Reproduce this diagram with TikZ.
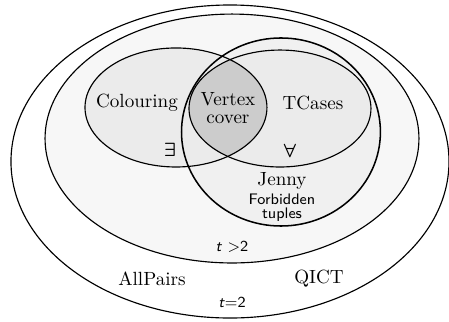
\documentclass[tikz,border=0pt]{standalone}
\usepackage{tikz}
\usepackage{amsmath,amssymb}
\usetikzlibrary{positioning}
\definecolor{pairbg}{HTML}{F7F7F7}
\definecolor{setfill}{HTML}{EBEBEB}
\definecolor{jennyfill}{HTML}{F0F0F0}
\definecolor{lensfill}{HTML}{CCCCCC}

\begin{document}
\begin{tikzpicture}[
  every node/.style={inner sep=1pt},
  setline/.style={draw=black, line width=0.6pt},
  sflabel/.style={font=\sffamily\footnotesize, align=center},
  rmlabel/.style={font=\normalsize, align=center}
]
  \useasboundingbox (0,0) rectangle (8.262,5.925);

  % fills, outermost first
  \fill[white]     (4.232,2.953) ellipse [x radius=4.03, y radius=2.88];
  \fill[pairbg]    (4.269,3.376) ellipse [x radius=3.44, y radius=2.29];
  \fill[jennyfill] (5.170,3.496) ellipse [x radius=1.83, y radius=1.73];
  \fill[setfill]   (3.238,3.947) ellipse [x radius=1.674, y radius=1.095];
  \fill[setfill]   (5.152,3.928) ellipse [x radius=1.674, y radius=1.076];
  \begin{scope}
    \clip (3.238,3.947) ellipse [x radius=1.674, y radius=1.095];
    \fill[lensfill] (5.152,3.928) ellipse [x radius=1.674, y radius=1.076];
  \end{scope}

  % outlines
  \draw[setline] (4.232,2.953) ellipse [x radius=4.03, y radius=2.88];
  \draw[setline] (4.269,3.376) ellipse [x radius=3.44, y radius=2.29];
  \draw[setline] (3.238,3.947) ellipse [x radius=1.674, y radius=1.095];
  \draw[setline] (5.152,3.928) ellipse [x radius=1.674, y radius=1.076];
  \draw[setline, line width=0.8pt] (5.170,3.496) ellipse [x radius=1.83, y radius=1.73];

  % labels
  \node[rmlabel] (colouring) at (2.521,4.030) {Colouring};
  \node[rmlabel] (vcover)    at (4.195,3.937) {Vertex\\[-2.6pt]cover};
  \node[rmlabel] (tcases)    at (5.759,4.030) {TCases};
  \node[rmlabel] (exists)    at (3.128,3.165) {$\boldsymbol{\exists}$};
  \node[rmlabel] (forall)    at (5.336,3.152) {$\boldsymbol{\forall}$};
  \node[rmlabel] (jenny)     at (5.189,2.594) {Jenny};
  \node[sflabel, below=0pt of jenny] (forbid) {Forbidden\\[-2.4pt]tuples};
  \node[sflabel] (tmore)     at (4.269,1.380) {\textit{t} $>$2};
  \node[rmlabel] (allpairs)  at (2.797,0.791) {AllPairs};
  \node[rmlabel] (qict)      at (5.870,0.791) {QICT};
  \node[sflabel] (ttwo)      at (4.269,0.368) {\textit{t}=2};
\end{tikzpicture}
\end{document}
